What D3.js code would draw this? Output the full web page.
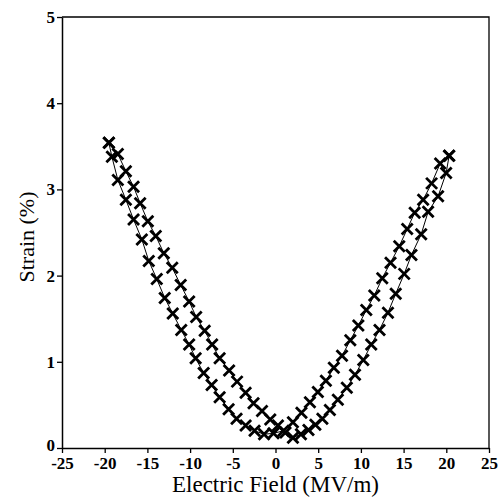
<!DOCTYPE html>
<html>
<head>
<meta charset="utf-8">
<script src="https://cdn.jsdelivr.net/npm/d3@7"></script>
<style>
  html, body { margin: 0; padding: 0; background: #fff; }
  svg { display: block; }
</style>
</head>
<body>
<svg id="chart" width="499" height="498"></svg>
<script>
// ---- data ----
// branch with increasing field (-20 -> +20 MV/m)
const fieldUp = [-19.51, -18.46, -17.52, -16.62, -15.85, -14.95, -14.02, -13.08, -12.09, -11.10,
  -10.11, -9.29, -8.29, -7.42, -6.54, -5.43, -4.50, -3.50, -2.57, -1.58,
  -0.61, 0.29, 1.17, 2.04, 2.98, 3.86, 4.67, 5.49, 6.37, 7.30,
  8.35, 9.31, 10.28, 11.21, 12.18, 13.17, 14.08, 15.07, 15.92, 17.06,
  17.87, 19.04, 19.98, 20.33];
const strainUp = [3.54, 3.41, 3.21, 3.03, 2.84, 2.63, 2.46, 2.26, 2.09, 1.89,
  1.70, 1.52, 1.36, 1.20, 1.04, 0.90, 0.77, 0.64, 0.52, 0.43,
  0.33, 0.26, 0.18, 0.12, 0.16, 0.21, 0.27, 0.34, 0.44, 0.56,
  0.70, 0.85, 1.02, 1.20, 1.37, 1.57, 1.79, 2.02, 2.24, 2.48,
  2.74, 2.92, 3.19, 3.39];
// branch with decreasing field (+20 -> -20 MV/m)
const fieldDown = [20.33, 19.28, 18.28, 17.29, 16.30, 15.42, 14.49, 13.47, 12.50, 11.57,
  10.63, 9.70, 8.76, 7.79, 6.83, 5.90, 4.96, 4.03, 3.04, 2.04,
  0.93, -0.23, -1.34, -2.45, -3.50, -4.56, -5.49, -6.54, -7.48, -8.41,
  -9.35, -10.11, -11.04, -12.03, -12.97, -13.90, -14.84, -15.65, -16.62, -17.52,
  -18.46, -19.16, -19.51];
const strainDown = [3.39, 3.30, 3.07, 2.88, 2.73, 2.54, 2.34, 2.15, 1.97, 1.77,
  1.60, 1.42, 1.25, 1.07, 0.93, 0.78, 0.65, 0.53, 0.41, 0.30,
  0.20, 0.17, 0.16, 0.20, 0.26, 0.34, 0.45, 0.59, 0.73, 0.87,
  1.04, 1.20, 1.37, 1.56, 1.74, 1.96, 2.17, 2.42, 2.65, 2.88,
  3.11, 3.38, 3.54];

const xTicks = [-25, -20, -15, -10, -5, 0, 5, 10, 15, 20, 25];
const yTicks = [0, 1, 2, 3, 4, 5];
const xTitle = "Electric Field (MV/m)";
const yTitle = "Strain (%)";

// ---- layout ----
const svg = d3.select("#chart");
const pLeft = 62, pRight = 489, pTop = 17, pBottom = 448;

const x = d3.scaleLinear().domain([-25, 25]).range([pLeft, pRight]);
const y = d3.scaleLinear().domain([0, 5]).range([pBottom, pTop]);

const serif = "'Liberation Serif', 'Times New Roman', serif";

// frame (top & right)
svg.append("path")
  .attr("d", `M${pLeft},${pTop}H${pRight}V${pBottom}`)
  .attr("fill", "none").attr("stroke", "#000").attr("stroke-width", 1.3);

// x axis
const gx = svg.append("g").attr("transform", `translate(0,${pBottom})`)
  .call(d3.axisBottom(x).tickValues(xTicks).tickSize(5).tickSizeOuter(0).tickPadding(4)
    .tickFormat(d => String(d)));
gx.select(".domain").attr("stroke-width", 1.5);
gx.selectAll(".tick line").attr("stroke-width", 1.3);
gx.selectAll("text").attr("font-family", serif).attr("font-size", 17)
  .attr("font-weight", "bold").attr("fill", "#000");

// y axis
const gy = svg.append("g").attr("transform", `translate(${pLeft},0)`)
  .call(d3.axisLeft(y).tickValues(yTicks).tickSize(5).tickSizeOuter(0).tickPadding(2)
    .tickFormat(d => String(d)));
gy.select(".domain").attr("stroke-width", 1.5);
gy.selectAll(".tick line").attr("stroke-width", 1.3);
gy.selectAll("text").attr("font-family", serif).attr("font-size", 17)
  .attr("font-weight", "bold").attr("fill", "#000");
// lift the "0" label a little so it clears the "-25" label below it
gy.selectAll(".tick").filter(d => d === 0).select("text").attr("dy", "0.15em");

// titles
svg.append("text")
  .attr("x", (pLeft + pRight) / 2).attr("y", 492)
  .attr("text-anchor", "middle")
  .attr("font-family", serif).attr("font-size", 23).attr("fill", "#000")
  .text(xTitle);

svg.append("text")
  .attr("transform", `translate(34,237) rotate(-90)`)
  .attr("text-anchor", "middle")
  .attr("font-family", serif).attr("font-size", 22).attr("fill", "#000")
  .text(yTitle);

// ---- series ----
const seriesList = [
  fieldUp.map((f, i) => ({ f, s: strainUp[i] })),
  fieldDown.map((f, i) => ({ f, s: strainDown[i] }))
];

const line = d3.line().x(d => x(d.f)).y(d => y(d.s));
const m = 5.5;
const crossPath = `M${-m},${-m}L${m},${m}M${-m},${m}L${m},${-m}`;

seriesList.forEach(data => {
  svg.append("path").datum(data)
    .attr("d", line)
    .attr("fill", "none").attr("stroke", "#000").attr("stroke-width", 1);
  svg.append("g").selectAll("path").data(data).join("path")
    .attr("transform", d => `translate(${x(d.f)},${y(d.s)})`)
    .attr("d", crossPath)
    .attr("fill", "none").attr("stroke", "#000").attr("stroke-width", 2.8)
    .attr("stroke-linecap", "butt");
});
</script>
</body>
</html>
